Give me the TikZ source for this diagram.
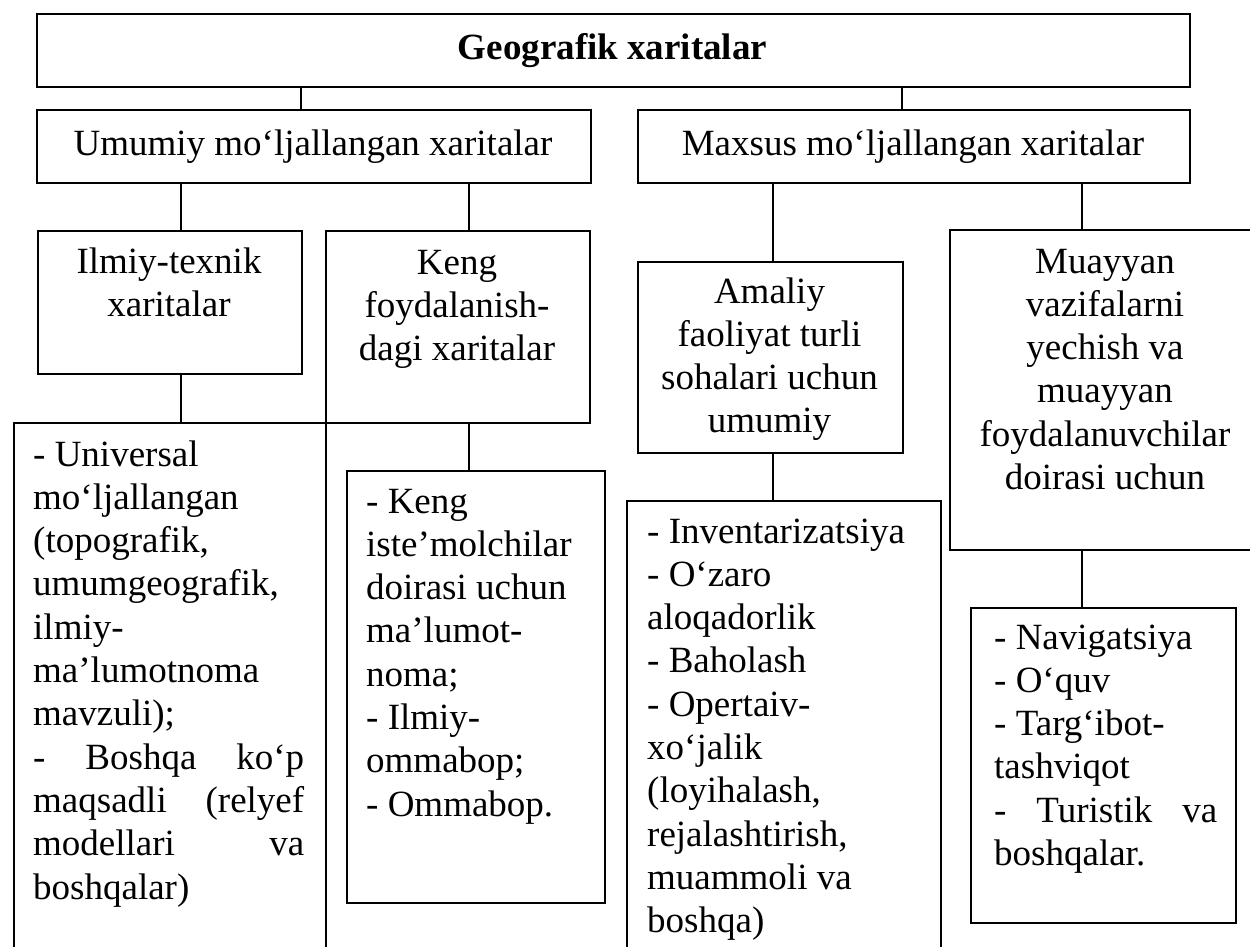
\documentclass[tikz,border=0pt]{standalone}
\usepackage{fontspec}
\setmainfont{Liberation Serif}
\tikzset{
  box/.style={draw, line width=1.6pt, rectangle, inner sep=0pt, anchor=north west},
  conn/.style={draw, line width=1.2pt},
  ctext/.style={anchor=base, inner sep=0pt, font=\fontsize{37}{43.3}\selectfont},
  ltext/.style={anchor=base west, inner sep=0pt, font=\fontsize{37}{43.3}\selectfont},
}
\newcommand{\boxat}[5]{\node[box, minimum width={(#4-#2)*1pt}, minimum height={(#5-#3)*1pt}] (#1) at (#2,#3) {};}
\begin{document}
\begin{tikzpicture}[x=1pt,y=-1pt]
\fill[white] (0,0) rectangle (1250,947);
\useasboundingbox (0,0) rectangle (1250,947);
% boxes
\boxat{title}{36}{13}{1189}{86}
\boxat{umumiy}{36}{109}{590}{182}
\boxat{maxsus}{637}{109}{1189}{182}
\boxat{ilmiy}{37}{230}{301}{373}
\boxat{keng}{325}{230}{589}{422}
\boxat{amaliy}{637}{261}{902}{452}
\boxat{muayyan}{949}{229}{1262}{549}
\boxat{univ}{13}{422}{325}{965}
\boxat{kenglist}{346}{470}{604}{902}
\boxat{amallist}{626}{500}{940}{965}
\boxat{muaylist}{970}{607}{1235}{922}
% connectors
\draw[conn] (301,0 |- title.south) -- (301,0 |- umumiy.north);
\draw[conn] (902,0 |- title.south) -- (902,0 |- maxsus.north);
\draw[conn] (181,0 |- umumiy.south) -- (181,0 |- ilmiy.north);
\draw[conn] (469,0 |- umumiy.south) -- (469,0 |- keng.north);
\draw[conn] (773,0 |- maxsus.south) -- (773,0 |- amaliy.north);
\draw[conn] (1082,0 |- maxsus.south) -- (1082,0 |- muayyan.north);
\draw[conn] (181,0 |- ilmiy.south) -- (181,0 |- univ.north);
\draw[conn] (469,0 |- keng.south) -- (469,0 |- kenglist.north);
\draw[conn] (773,0 |- amaliy.south) -- (773,0 |- amallist.north);
\draw[conn] (1082,0 |- muayyan.south) -- (1082,0 |- muaylist.north);
% texts
\node[ctext] (t-title) at (612.5,60) {\bfseries Geografik xaritalar};
\node[ctext] (t-umumiy) at (313,155) {Umumiy mo‘ljallangan xaritalar};
\node[ctext] (t-maxsus) at (913,155) {Maxsus mo‘ljallangan xaritalar};
\node[ctext] (t-ilmiy) at (169,273) {\parbox[t]{260pt}{\centering Ilmiy-texnik\\xaritalar}};
\node[ctext] (t-keng) at (457,274) {\parbox[t]{260pt}{\centering Keng\\foydalanish-\\dagi xaritalar}};
\node[ctext] (t-amaliy) at (769.5,303) {\parbox[t]{260pt}{\centering Amaliy\\faoliyat turli\\sohalari uchun\\umumiy}};
\node[ctext] (t-muayyan) at (1105,273) {\parbox[t]{300pt}{\centering Muayyan\\vazifalarni\\yechish va\\muayyan\\foydalanuvchilar\\doirasi uchun}};
\node[ltext] (t-univ) at (33,466) {\parbox[t]{271pt}{\raggedright
- Universal\\
mo‘ljallangan\\
(topografik,\\
umumgeografik,\\
ilmiy-\\
ma’lumotnoma\\
mavzuli);\\
\makebox[271pt][s]{- Boshqa ko‘p}\\
\makebox[271pt][s]{maqsadli (relyef}\\
\makebox[271pt][s]{modellari va}\\
boshqalar)}};
\node[ltext] (t-kenglist) at (366,513) {\parbox[t]{230pt}{\raggedright
- Keng\\
iste’molchilar\\
doirasi uchun\\
ma’lumot-\\
noma;\\
- Ilmiy-\\
ommabop;\\
- Ommabop.}};
\node[ltext] (t-amallist) at (647,543) {\parbox[t]{290pt}{\raggedright
- Inventarizatsiya\\
- O‘zaro\\
aloqadorlik\\
- Baholash\\
- Opertaiv-\\
xo‘jalik\\
(loyihalash,\\
rejalashtirish,\\
muammoli va\\
boshqa)}};
\node[ltext] (t-muaylist) at (994,649) {\parbox[t]{223pt}{\raggedright
- Navigatsiya\\
- O‘quv\\
- Targ‘ibot-\\
tashviqot\\
\makebox[223pt][s]{- Turistik va}\\
boshqalar.}};
\end{tikzpicture}
\end{document}
